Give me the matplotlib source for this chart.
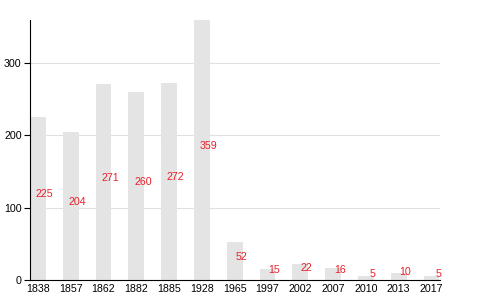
import matplotlib
matplotlib.use("Agg")
import matplotlib.pyplot as plt
import numpy as np

years = ["1838", "1857", "1862", "1882", "1885", "1928", "1965",
         "1997", "2002", "2007", "2010", "2013", "2017"]
values = [225, 204, 271, 260, 272, 359, 52, 15, 22, 16, 5, 10, 5]
yticks = [0, 100, 200, 300]

plt.rcParams['font.family'] = ['Liberation Sans', 'DejaVu Sans']

fig = plt.figure(figsize=(4.8, 3.0), dpi=100)
ax = fig.add_axes([30/480, 20/300, 410/480, 260/300])

x = np.arange(len(years))
ax.bar(x, values, width=0.48, color="#e4e4e4", zorder=2)
for xi, v in zip(x, values):
    ax.annotate(str(v), (xi + 0.2, v / 2), xytext=(0, 3), textcoords="offset points",
                color="#e8212b", fontsize=7.7, ha="center", va="center", zorder=3)

ax.set_xlim(-0.24, len(years) - 1 + 0.26)
ax.set_ylim(0, 359)
ax.set_yticks(yticks)
ax.set_yticklabels([str(t) for t in yticks], fontsize=7.7)
ax.set_xticks(x)
ax.set_xticklabels(years, fontsize=7.7)
ax.tick_params(axis="x", length=0, pad=3)
ax.tick_params(axis="y", length=4, width=0.8, pad=2)
ax.yaxis.grid(True, color="#e0e0e0", linewidth=0.8, zorder=0)
ax.set_axisbelow(True)
for s in ["top", "right"]:
    ax.spines[s].set_visible(False)
ax.spines["left"].set_linewidth(0.8)
ax.spines["bottom"].set_linewidth(0.8)

fig.savefig("out.png", dpi=100)
